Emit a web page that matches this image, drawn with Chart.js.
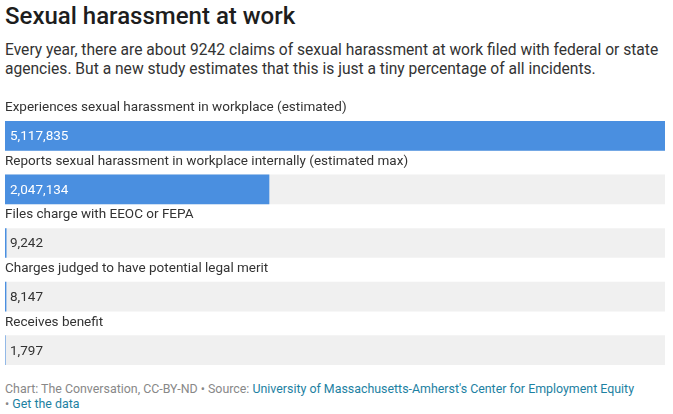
<!DOCTYPE html>
<html>
<head>
<meta charset="utf-8">
<script src="https://cdn.jsdelivr.net/npm/chart.js@4"></script>
<style>
  body { margin: 0; background: #fff; font-family: Roboto, sans-serif; width: 673px; height: 414px; overflow: hidden; position: relative; }
  h1 { position: absolute; left: 5px; top: 0; margin: 0; font-size: 24px; font-weight: 500; color: #1d1d1d; line-height: 32px; }
  .sub { position: absolute; left: 5px; top: 41px; width: 665px; margin: 0; font-size: 15.6px; line-height: 19px; color: #333; }
  .foot { position: absolute; left: 5px; top: 381px; width: 665px; font-size: 12.4px; line-height: 15px; color: #888; }
  .foot a { color: #1d81a2; text-decoration: none; }
  #holder { position: absolute; left: 0; top: 95px; width: 673px; height: 282px; }
</style>
</head>
<body>
<h1>Sexual harassment at work</h1>
<p class="sub">Every year, there are about 9242 claims of sexual harassment at work filed with federal or state agencies. But a new study estimates that this is just a tiny percentage of all incidents.</p>
<div id="holder"><canvas id="chart"></canvas></div>
<div class="foot">Chart: The Conversation, CC-BY-ND • Source: <a href="#">University of Massachusetts-Amherst's Center for Employment Equity</a><br>• <a href="#">Get the data</a></div>
<script>
// Rows of the chart, top to bottom
const categories = [
    'Experiences sexual harassment in workplace (estimated)',
    'Reports sexual harassment in workplace internally (estimated max)',
    'Files charge with EEOC or FEPA',
    'Charges judged to have potential legal merit',
    'Receives benefit'
];
const counts = [5117835, 2047134, 9242, 8147, 1797];
const scaleMax = 5117835;
const trackValues = categories.map(() => scaleMax);

// Draws the row label above each bar and the value inside it
const rowLabels = {
    id: 'rowLabels',
    afterDatasetsDraw(chart) {
        const ctx = chart.ctx;
        const meta = chart.getDatasetMeta(1);
        ctx.save();
        ctx.textBaseline = 'middle';
        ctx.textAlign = 'left';
        meta.data.forEach((bar, i) => {
            const left = chart.chartArea.left;
            ctx.font = '13.5px Roboto, sans-serif';
            ctx.fillStyle = '#333';
            ctx.fillText(categories[i], left, bar.y - 28);
            const wide = (bar.x - left) > 60;
            ctx.fillStyle = wide ? '#fff' : '#333';
            ctx.fillText(counts[i].toLocaleString('en-US'), left + 5, bar.y + 1);
        });
        ctx.restore();
    }
};

new Chart(document.getElementById('chart').getContext('2d'), {
    type: 'bar',
    data: {
        labels: categories,
        datasets: [
            {
                data: trackValues,
                backgroundColor: '#f0f0f0',
                barThickness: 29,
                grouped: false,
                order: 2
            },
            {
                data: counts,
                backgroundColor: '#4a8fe0',
                barThickness: 29,
                grouped: false,
                order: 1
            }
        ]
    },
    options: {
        indexAxis: 'y',
        responsive: true,
        maintainAspectRatio: false,
        animation: false,
        layout: { padding: { left: 5, right: 8, top: 14, bottom: 0 } },
        scales: {
            x: { display: false, min: 0, max: scaleMax },
            y: { display: false }
        },
        plugins: {
            legend: { display: false },
            tooltip: { enabled: false }
        }
    },
    plugins: [rowLabels]
});
</script>
</body>
</html>
